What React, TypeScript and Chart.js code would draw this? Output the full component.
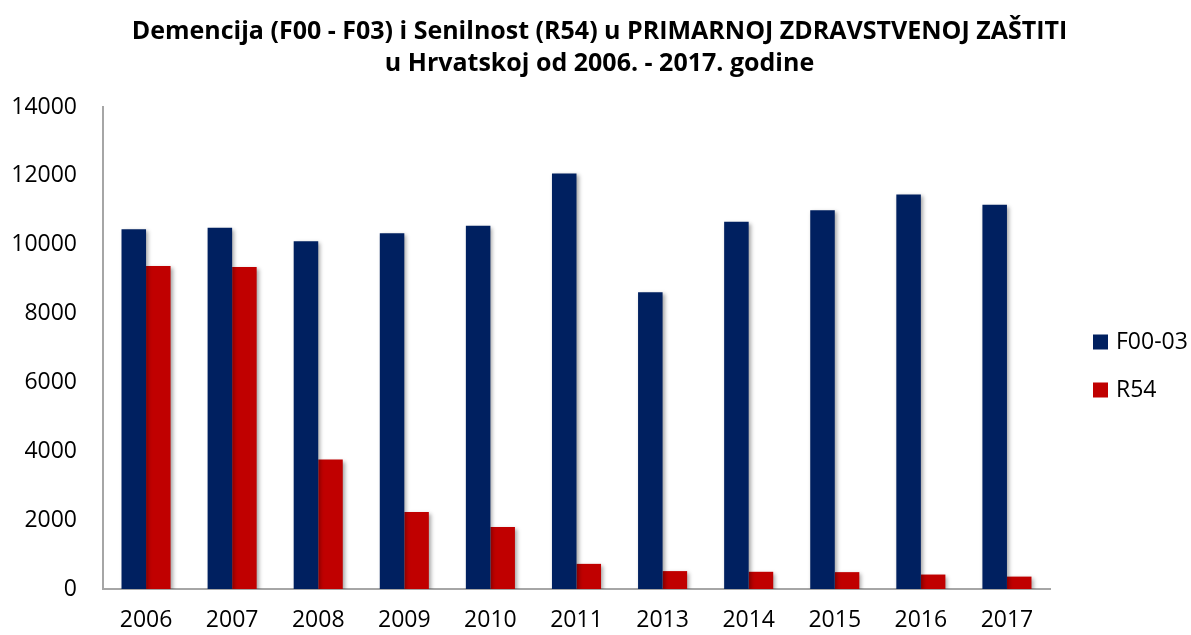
import React, { useEffect, useRef } from "react";
import { Chart, registerables } from "chart.js";

Chart.register(...registerables);

const categories = ["2006", "2007", "2008", "2009", "2010", "2011", "2013", "2014", "2015", "2016", "2017"];
const f0003Values = [10450, 10490, 10100, 10330, 10550, 12070, 8620, 10670, 11000, 11460, 11160];
const r54Values = [9380, 9350, 3760, 2240, 1800, 730, 520, 500, 490, 420, 360];
const seriesNames = ["F00-03", "R54"];
const seriesColors = ["#002060", "#C00000"];
const titleLines = [
  "Demencija (F00 - F03) i Senilnost (R54) u PRIMARNOJ ZDRAVSTVENOJ ZAŠTITI",
  "u Hrvatskoj od 2006. - 2017. godine",
];

const FONT = "'Open Sans', 'Noto Sans', sans-serif";
const TICK_SIZE = 23;

const shadowPlugin = {
  id: "barShadow",
  beforeDatasetsDraw(chart: any) {
    const ctx = chart.ctx;
    ctx.save();
    ctx.shadowColor = "rgba(0,0,0,0.35)";
    ctx.shadowBlur = 4;
    ctx.shadowOffsetX = 2;
    ctx.shadowOffsetY = 2;
  },
  afterDatasetsDraw(chart: any) {
    chart.ctx.restore();
  },
};

const sideLegendPlugin = {
  id: "sideLegend",
  afterDraw(chart: any) {
    const { ctx, chartArea } = chart;
    const box = 15;
    const x = chartArea.right + 43;
    const mid = (chartArea.top + chartArea.bottom) / 2;
    const startY = mid - 6;
    const gap = 48;
    ctx.save();
    ctx.font = `${TICK_SIZE}px ${FONT}`;
    ctx.textBaseline = "middle";
    ctx.textAlign = "left";
    chart.data.datasets.forEach((ds: any, i: number) => {
      const y = startY + i * gap;
      ctx.fillStyle = ds.backgroundColor;
      ctx.fillRect(x, y - box / 2, box, box);
      ctx.fillStyle = "#000000";
      ctx.fillText(ds.label, x + box + 8, y);
    });
    ctx.restore();
  },
};

export default function App() {
  const canvasRef = useRef<HTMLCanvasElement | null>(null);

  useEffect(() => {
    if (!canvasRef.current) return;
    const chart = new Chart(canvasRef.current, {
      type: "bar",
      data: {
        labels: categories,
        datasets: [
          {
            label: seriesNames[0],
            data: f0003Values,
            backgroundColor: seriesColors[0],
            borderWidth: 0,
            yAxisID: "y",
          },
          {
            label: seriesNames[1],
            data: r54Values,
            backgroundColor: seriesColors[1],
            borderWidth: 0,
            yAxisID: "y",
          },
        ],
      },
      options: {
        animation: false,
        responsive: true,
        maintainAspectRatio: false,
        layout: { padding: { left: 8, right: 0, top: 0, bottom: 0 } },
        datasets: {
          bar: { categoryPercentage: 0.57, barPercentage: 1.0 },
        },
        plugins: {
          title: {
            display: true,
            text: titleLines,
            color: "#000000",
            font: { family: FONT, size: 25, weight: "bold", lineHeight: 1.28 },
            padding: { top: 16, bottom: 27 },
          },
          legend: { display: false },
          tooltip: { enabled: false },
        },
        scales: {
          x: {
            grid: { display: false, drawTicks: false },
            border: { display: true, color: "#a6a6a6", width: 2 },
            ticks: {
              color: "#000000",
              font: { family: FONT, size: TICK_SIZE, lineHeight: 1 },
              padding: 20,
              maxRotation: 0,
            },
            afterFit: (s: any) => {
              s.height = 46;
            },
          },
          y: {
            min: 0,
            max: 14000,
            grid: { display: false, drawTicks: false },
            border: { display: true, color: "#a6a6a6", width: 2 },
            ticks: {
              stepSize: 2000,
              color: "#000000",
              font: { family: FONT, size: TICK_SIZE, lineHeight: 1 },
              padding: 26,
              callback: (v: any) => String(v),
            },
            afterFit: (s: any) => {
              s.width = 95;
            },
          },
          yLegendSpace: {
            position: "right",
            display: true,
            min: 0,
            max: 14000,
            grid: { display: false, drawTicks: false },
            border: { display: false },
            ticks: { display: false },
            afterFit: (s: any) => {
              s.width = 141;
            },
          },
        },
      },
      plugins: [shadowPlugin, sideLegendPlugin],
    });
    return () => chart.destroy();
  }, []);

  return (
    <div style={{ position: "absolute", left: 0, top: 0, width: 1191, height: 635, background: "#ffffff" }}>
      <canvas ref={canvasRef} />
    </div>
  );
}
